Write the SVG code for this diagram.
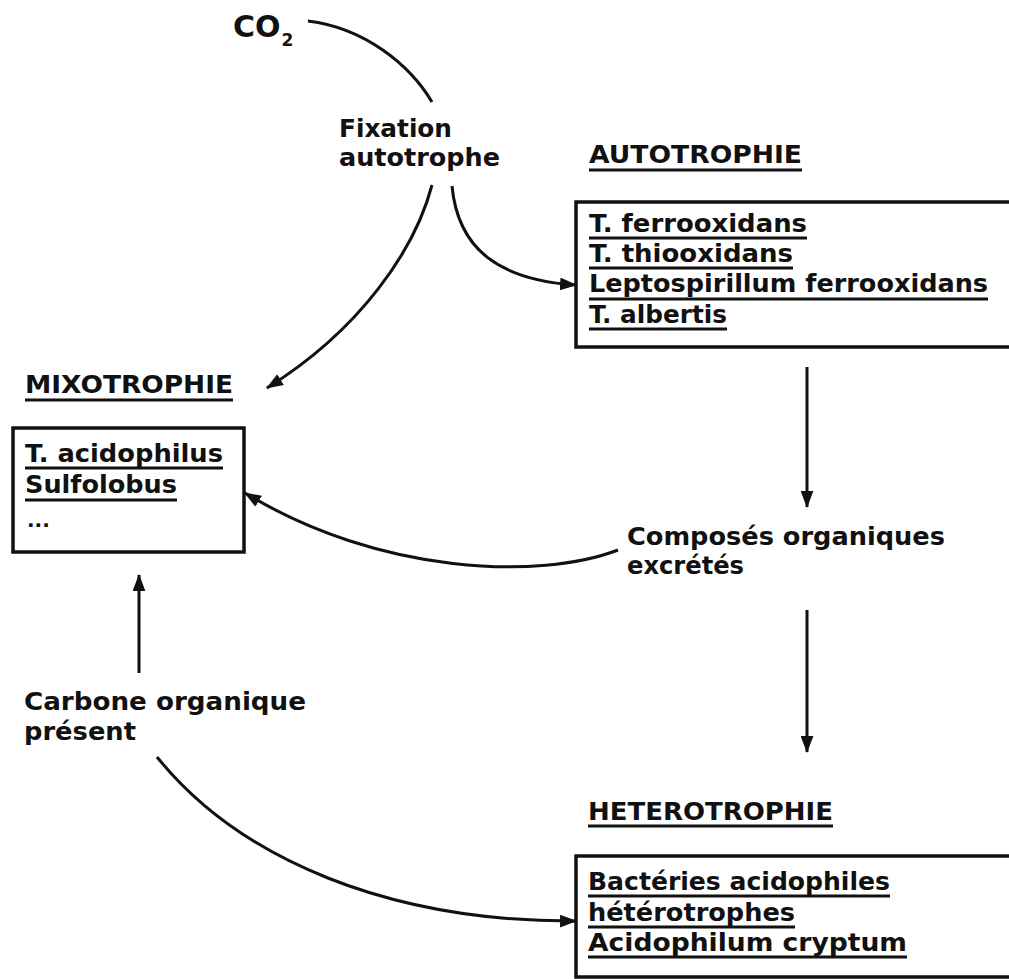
<svg xmlns="http://www.w3.org/2000/svg" width="1009" height="979" viewBox="0 0 1009 979">
  <style>
    .t { font-family: "DejaVu Sans", "Liberation Sans", sans-serif; font-weight: bold; font-size: 24px; fill: #111; }
    .box { fill: none; stroke: #111; stroke-width: 3.5; }
    .ul { stroke: #111; stroke-width: 3; }
    .c { fill: none; stroke: #111; stroke-width: 3; }
  </style>
  <defs>
    <marker id="ah" viewBox="0 0 16 12" refX="15" refY="6" markerWidth="17" markerHeight="13" markerUnits="userSpaceOnUse" orient="auto">
      <path d="M0,0 L16,6 L0,12 z" fill="#111"/>
    </marker>
  </defs>
  <rect width="1009" height="979" fill="#fff"/>

  <g id="co2">
    <text class="t" x="233" y="37" style="font-size:30px">CO<tspan style="font-size:17px" dx="1" dy="9">2</tspan></text>
  </g>

  <g id="fixation">
    <text class="t" x="339" y="137" textLength="113" lengthAdjust="spacingAndGlyphs">Fixation</text>
    <text class="t" x="339" y="166" textLength="161" lengthAdjust="spacingAndGlyphs">autotrophe</text>
  </g>

  <g id="autotrophie">
    <text class="t" x="589" y="163" textLength="213" lengthAdjust="spacingAndGlyphs">AUTOTROPHIE</text>
    <line class="ul" x1="589" y1="170" x2="802" y2="170"/>
    <rect class="box" x="576" y="202" width="445" height="145"/>
    <text class="t" x="589" y="232" textLength="218" lengthAdjust="spacingAndGlyphs">T. ferrooxidans</text>
    <line class="ul" x1="589" y1="238" x2="807" y2="238"/>
    <text class="t" x="589" y="262" textLength="204" lengthAdjust="spacingAndGlyphs">T. thiooxidans</text>
    <line class="ul" x1="589" y1="268" x2="793" y2="268"/>
    <text class="t" x="589" y="292" textLength="399" lengthAdjust="spacingAndGlyphs">Leptospirillum ferrooxidans</text>
    <line class="ul" x1="589" y1="299" x2="988" y2="299"/>
    <text class="t" x="589" y="323" textLength="138" lengthAdjust="spacingAndGlyphs">T. albertis</text>
    <line class="ul" x1="589" y1="329" x2="727" y2="329"/>
  </g>

  <g id="mixotrophie">
    <text class="t" x="25" y="393" textLength="208" lengthAdjust="spacingAndGlyphs">MIXOTROPHIE</text>
    <line class="ul" x1="25" y1="400" x2="233" y2="400"/>
    <rect class="box" x="13" y="428" width="231" height="124"/>
    <text class="t" x="25" y="462" textLength="198" lengthAdjust="spacingAndGlyphs">T. acidophilus</text>
    <line class="ul" x1="25" y1="468" x2="223" y2="468"/>
    <text class="t" x="25" y="493" textLength="152" lengthAdjust="spacingAndGlyphs">Sulfolobus</text>
    <line class="ul" x1="25" y1="500" x2="177" y2="500"/>
    <text class="t" x="27" y="527" style="font-size:20px">...</text>
  </g>

  <g id="composes">
    <text class="t" x="627" y="545" textLength="318" lengthAdjust="spacingAndGlyphs">Composés organiques</text>
    <text class="t" x="627" y="574" textLength="117" lengthAdjust="spacingAndGlyphs">excrétés</text>
  </g>

  <g id="carbone">
    <text class="t" x="24" y="710" textLength="282" lengthAdjust="spacingAndGlyphs">Carbone organique</text>
    <text class="t" x="24" y="740" textLength="112" lengthAdjust="spacingAndGlyphs">présent</text>
  </g>

  <g id="heterotrophie">
    <text class="t" x="588" y="820" textLength="245" lengthAdjust="spacingAndGlyphs">HETEROTROPHIE</text>
    <line class="ul" x1="588" y1="826" x2="833" y2="826"/>
    <rect class="box" x="576" y="856" width="445" height="121"/>
    <text class="t" x="588" y="890" textLength="302" lengthAdjust="spacingAndGlyphs">Bactéries acidophiles</text>
    <line class="ul" x1="588" y1="896" x2="890" y2="896"/>
    <text class="t" x="588" y="921" textLength="207" lengthAdjust="spacingAndGlyphs">hétérotrophes</text>
    <line class="ul" x1="588" y1="927" x2="795" y2="927"/>
    <text class="t" x="588" y="951" textLength="319" lengthAdjust="spacingAndGlyphs">Acidophilum cryptum</text>
    <line class="ul" x1="588" y1="957" x2="907" y2="957"/>
  </g>

  <g id="connectors">
    <path class="c" d="M308,21 C365,28 410,65 432,102"/>
    <path class="c" d="M432,185 C415,250 360,330 267,388" marker-end="url(#ah)"/>
    <path class="c" d="M452,186 C458,250 500,280 576,285" marker-end="url(#ah)"/>
    <path class="c" d="M807,367 L807,507" marker-end="url(#ah)"/>
    <path class="c" d="M807,610 L807,752" marker-end="url(#ah)"/>
    <path class="c" d="M618,550 C540,580 380,575 245,493" marker-end="url(#ah)"/>
    <path class="c" d="M139,673 L139,575" marker-end="url(#ah)"/>
    <path class="c" d="M157,757 C240,860 390,922 576,921" marker-end="url(#ah)"/>
  </g>
</svg>
